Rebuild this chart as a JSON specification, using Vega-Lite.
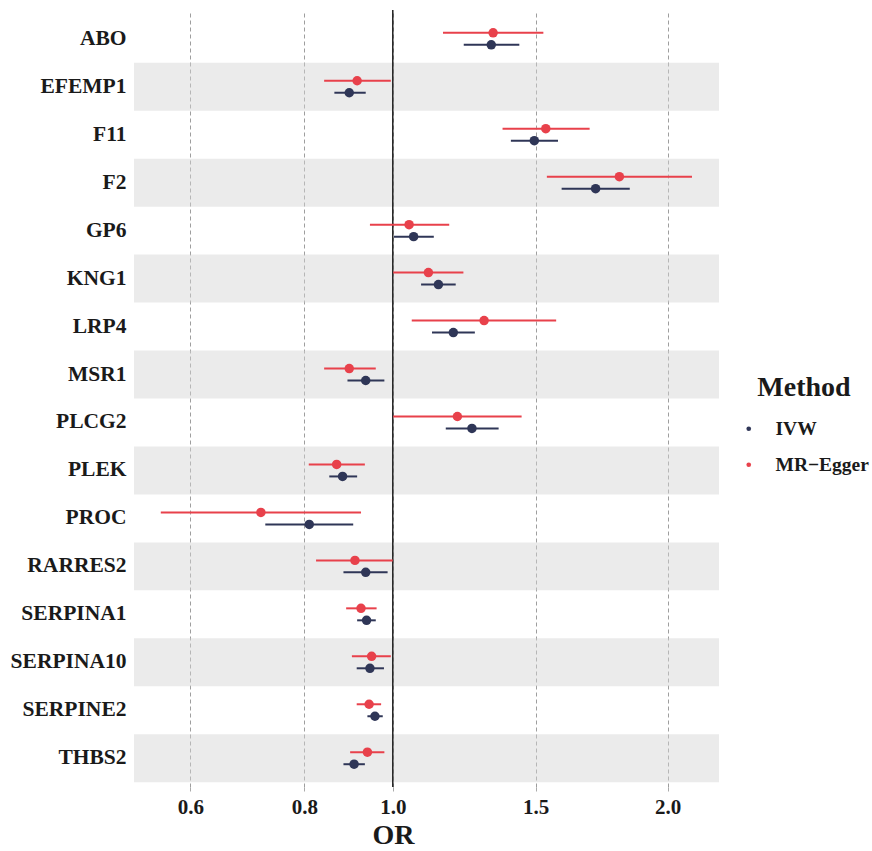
{
  "$schema": "https://vega.github.io/schema/vega-lite/v6.json",
  "width": 585,
  "height": 777,
  "autosize": {"type": "none"},
  "padding": {"left": 134, "top": 10, "right": 153, "bottom": 64},
  "background": "white",
  "config": {"view": {"stroke": null}},
  "datasets": {
    "est": [
      {"gene": "ABO", "method": "MR−Egger", "or": 1.288, "lo": 1.135, "hi": 1.462},
      {"gene": "ABO", "method": "IVW", "or": 1.282, "lo": 1.196, "hi": 1.376},
      {"gene": "EFEMP1", "method": "MR−Egger", "or": 0.914, "lo": 0.841, "hi": 0.995},
      {"gene": "EFEMP1", "method": "IVW", "or": 0.896, "lo": 0.863, "hi": 0.934},
      {"gene": "F11", "method": "MR−Egger", "or": 1.471, "lo": 1.319, "hi": 1.643},
      {"gene": "F11", "method": "IVW", "or": 1.429, "lo": 1.347, "hi": 1.517},
      {"gene": "F2", "method": "MR−Egger", "or": 1.771, "lo": 1.475, "hi": 2.127},
      {"gene": "F2", "method": "IVW", "or": 1.668, "lo": 1.531, "hi": 1.818},
      {"gene": "GP6", "method": "MR−Egger", "or": 1.042, "lo": 0.944, "hi": 1.153},
      {"gene": "GP6", "method": "IVW", "or": 1.054, "lo": 1.003, "hi": 1.109},
      {"gene": "KNG1", "method": "MR−Egger", "or": 1.094, "lo": 1.001, "hi": 1.195},
      {"gene": "KNG1", "method": "IVW", "or": 1.122, "lo": 1.074, "hi": 1.172},
      {"gene": "LRP4", "method": "MR−Egger", "or": 1.259, "lo": 1.049, "hi": 1.51},
      {"gene": "LRP4", "method": "IVW", "or": 1.165, "lo": 1.104, "hi": 1.23},
      {"gene": "MSR1", "method": "MR−Egger", "or": 0.896, "lo": 0.841, "hi": 0.958},
      {"gene": "MSR1", "method": "IVW", "or": 0.934, "lo": 0.892, "hi": 0.979},
      {"gene": "PLCG2", "method": "MR−Egger", "or": 1.177, "lo": 1.001, "hi": 1.384},
      {"gene": "PLCG2", "method": "IVW", "or": 1.221, "lo": 1.143, "hi": 1.306},
      {"gene": "PLEK", "method": "MR−Egger", "or": 0.868, "lo": 0.809, "hi": 0.932},
      {"gene": "PLEK", "method": "IVW", "or": 0.881, "lo": 0.852, "hi": 0.914},
      {"gene": "PROC", "method": "MR−Egger", "or": 0.717, "lo": 0.557, "hi": 0.923},
      {"gene": "PROC", "method": "IVW", "or": 0.81, "lo": 0.725, "hi": 0.905},
      {"gene": "RARRES2", "method": "MR−Egger", "or": 0.909, "lo": 0.824, "hi": 1.0},
      {"gene": "RARRES2", "method": "IVW", "or": 0.934, "lo": 0.883, "hi": 0.987},
      {"gene": "SERPINA1", "method": "MR−Egger", "or": 0.923, "lo": 0.889, "hi": 0.96},
      {"gene": "SERPINA1", "method": "IVW", "or": 0.936, "lo": 0.914, "hi": 0.958},
      {"gene": "SERPINA10", "method": "MR−Egger", "or": 0.948, "lo": 0.902, "hi": 0.995},
      {"gene": "SERPINA10", "method": "IVW", "or": 0.944, "lo": 0.913, "hi": 0.978},
      {"gene": "SERPINE2", "method": "MR−Egger", "or": 0.942, "lo": 0.913, "hi": 0.971},
      {"gene": "SERPINE2", "method": "IVW", "or": 0.956, "lo": 0.938, "hi": 0.975},
      {"gene": "THBS2", "method": "MR−Egger", "or": 0.938, "lo": 0.898, "hi": 0.979},
      {"gene": "THBS2", "method": "IVW", "or": 0.907, "lo": 0.883, "hi": 0.932}
    ],
    "bands": [
      {"gene": "EFEMP1"}, {"gene": "F2"}, {"gene": "KNG1"}, {"gene": "MSR1"},
      {"gene": "PLEK"}, {"gene": "RARRES2"}, {"gene": "SERPINA10"}, {"gene": "THBS2"}
    ],
    "ref": [{"or": 1}]
  },
  "encoding": {
    "y": {
      "field": "gene",
      "type": "nominal",
      "scale": {
        "domain": ["ABO", "EFEMP1", "F11", "F2", "GP6", "KNG1", "LRP4", "MSR1", "PLCG2", "PLEK", "PROC", "RARRES2", "SERPINA1", "SERPINA10", "SERPINE2", "THBS2"],
        "paddingInner": 0,
        "paddingOuter": 0.1
      },
      "axis": {
        "title": null,
        "ticks": false,
        "domain": false,
        "grid": false,
        "labelFont": "Liberation Serif",
        "labelFontSize": 21.5,
        "labelFontWeight": "bold",
        "labelColor": "#1a1a1a",
        "labelPadding": 8
      }
    }
  },
  "layer": [
    {
      "data": {"name": "bands"},
      "mark": {"type": "rect", "color": "#d2d2d2", "opacity": 0.45},
      "encoding": {
        "x": {"value": 0},
        "x2": {"value": "width"}
      }
    },
    {
      "data": {"name": "ref"},
      "mark": {"type": "rule", "color": "#222222", "strokeWidth": 1.5},
      "encoding": {
        "x": {"field": "or", "type": "quantitative"},
        "y": null
      }
    },
    {
      "data": {"name": "est"},
      "mark": {"type": "rule", "strokeWidth": 2},
      "encoding": {
        "x": {
          "field": "lo",
          "type": "quantitative",
          "scale": {"type": "log", "domain": [0.5206, 2.277], "nice": false, "zero": false},
          "axis": {
            "values": [0.6, 0.8, 1, 1.434, 2],
            "labelExpr": "datum.value > 1.4 && datum.value < 1.5 ? '1.5' : format(datum.value, '.1f')",
            "grid": true,
            "gridDash": [4, 3],
            "gridColor": "#9e9e9e",
            "gridWidth": 1,
            "tickColor": "#aaaaaa",
            "tickSize": 4,
            "domain": false,
            "labelFont": "Liberation Serif",
            "labelFontSize": 21,
            "labelFontWeight": "bold",
            "labelColor": "#1a1a1a",
            "labelPadding": 5,
            "title": "OR",
            "titleFont": "Liberation Serif",
            "titleFontSize": 28,
            "titleFontWeight": "bold",
            "titleColor": "#1a1a1a",
            "titleX": 259,
            "titlePadding": 4
          }
        },
        "x2": {"field": "hi"},
        "yOffset": {
          "field": "method",
          "type": "nominal",
          "scale": {"domain": ["MR−Egger", "IVW"], "paddingInner": 0, "paddingOuter": 1}
        },
        "color": {
          "field": "method",
          "type": "nominal",
          "scale": {"domain": ["IVW", "MR−Egger"], "range": ["#2f3657", "#e8414b"]}
        }
      }
    },
    {
      "data": {"name": "est"},
      "mark": {"type": "point", "filled": true, "size": 90, "opacity": 1},
      "encoding": {
        "x": {"field": "or", "type": "quantitative"},
        "yOffset": {
          "field": "method",
          "type": "nominal",
          "scale": {"domain": ["MR−Egger", "IVW"], "paddingInner": 0, "paddingOuter": 1}
        },
        "color": {
          "field": "method",
          "type": "nominal",
          "title": "Method",
          "legend": {
            "orient": "none",
            "legendX": 605,
            "legendY": 364,
            "titleFont": "Liberation Serif",
            "titleFontSize": 28,
            "titleFontWeight": "bold",
            "titleColor": "#1a1a1a",
            "titleAnchor": "middle",
            "titlePadding": 17,
            "labelFont": "Liberation Serif",
            "labelFontSize": 19.5,
            "labelFontWeight": "bold",
            "labelColor": "#1a1a1a",
            "symbolType": "circle",
            "symbolSize": 22,
            "symbolStrokeWidth": 0,
            "symbolOpacity": 1,
            "labelOffset": 17,
            "rowPadding": 15
          }
        }
      }
    }
  ]
}
